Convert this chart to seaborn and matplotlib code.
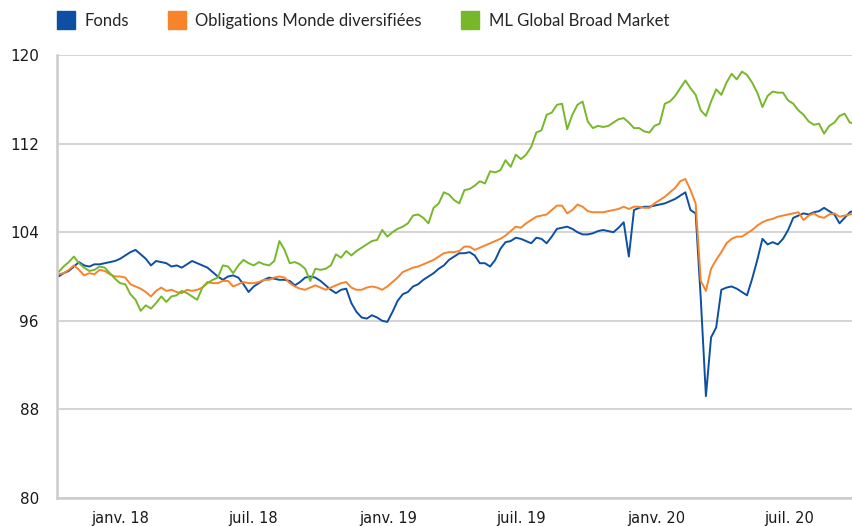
import matplotlib
matplotlib.use("Agg")
import matplotlib.pyplot as plt
import matplotlib.dates as mdates
from matplotlib.ticker import MultipleLocator, FixedLocator
from matplotlib.lines import Line2D
import seaborn as sns
import pandas as pd
import numpy as np

start_date = "2017-10-09"
n_weeks = 156

fonds = [
    100.0, 100.3, 100.5, 100.9, 101.3, 101.0, 100.9, 101.1, 101.1, 101.2,
    101.3, 101.4, 101.6, 101.9, 102.2, 102.4, 102.0, 101.6, 101.0, 101.4,
    101.3, 101.2, 100.9, 101.0, 100.8, 101.1, 101.4, 101.2, 101.0, 100.8,
    100.4, 100.0, 99.7, 100.0, 100.1, 99.9, 99.3, 98.6, 99.1, 99.4,
    99.7, 99.9, 99.8, 99.7, 99.7, 99.6, 99.2, 99.5, 99.9, 100.0,
    99.9, 99.6, 99.2, 98.8, 98.5, 98.8, 98.9, 97.6, 96.8, 96.3,
    96.2, 96.5, 96.3, 96.0, 95.9, 96.8, 97.8, 98.4, 98.6, 99.1,
    99.3, 99.7, 100.0, 100.3, 100.7, 101.0, 101.5, 101.8, 102.1, 102.1,
    102.2, 101.9, 101.2, 101.2, 100.9, 101.5, 102.5, 103.1, 103.2, 103.5,
    103.4, 103.2, 103.0, 103.5, 103.4, 103.0, 103.6, 104.3, 104.4, 104.5,
    104.3, 104.0, 103.8, 103.8, 103.9, 104.1, 104.2, 104.1, 104.0, 104.4,
    104.9, 101.8, 106.0, 106.2, 106.3, 106.3, 106.4, 106.5, 106.6, 106.8,
    107.0, 107.3, 107.6, 106.0, 105.7, 98.0, 89.2, 94.5, 95.4, 98.8,
    99.0, 99.1, 98.9, 98.6, 98.3, 99.8, 101.5, 103.4, 102.9, 103.1,
    102.9, 103.4, 104.2, 105.3, 105.5, 105.7, 105.6, 105.8, 105.9, 106.2,
    105.9, 105.6, 104.8, 105.3, 105.8, 106.0,
]

obligations = [
    100.2, 100.3, 100.6, 101.0, 100.6, 100.1, 100.3, 100.2, 100.6, 100.5,
    100.2, 100.0, 100.0, 99.9, 99.3, 99.1, 98.9, 98.6, 98.2, 98.7,
    99.0, 98.7, 98.8, 98.6, 98.5, 98.8, 98.7, 98.8, 99.0, 99.5,
    99.4, 99.4, 99.6, 99.6, 99.1, 99.3, 99.5, 99.4, 99.4, 99.5,
    99.7, 99.7, 99.9, 100.0, 99.9, 99.4, 99.1, 98.9, 98.8, 99.0,
    99.2, 99.0, 98.8, 99.0, 99.2, 99.4, 99.5, 99.0, 98.8, 98.8,
    99.0, 99.1, 99.0, 98.8, 99.1, 99.5, 99.9, 100.4, 100.6, 100.8,
    100.9, 101.1, 101.3, 101.5, 101.8, 102.1, 102.2, 102.2, 102.3, 102.7,
    102.7, 102.4, 102.6, 102.8, 103.0, 103.2, 103.4, 103.7, 104.1, 104.5,
    104.4, 104.8, 105.1, 105.4, 105.5, 105.6, 106.0, 106.4, 106.4, 105.7,
    106.0, 106.5, 106.3, 105.9, 105.8, 105.8, 105.8, 105.9, 106.0, 106.1,
    106.3, 106.1, 106.3, 106.3, 106.2, 106.2, 106.6, 106.9, 107.2, 107.6,
    108.0, 108.6, 108.8, 107.8, 106.6, 99.6, 98.7, 100.7, 101.5, 102.2,
    103.0, 103.4, 103.6, 103.6, 103.9, 104.2, 104.6, 104.9, 105.1, 105.2,
    105.4, 105.5, 105.6, 105.7, 105.8, 105.1, 105.5, 105.7, 105.4, 105.3,
    105.6, 105.7, 105.4, 105.5, 105.6, 105.7,
]

ml_global = [
    100.4, 100.9, 101.3, 101.8, 101.2, 100.8, 100.5, 100.6, 100.9, 100.8,
    100.3, 99.8, 99.4, 99.3, 98.4, 97.9, 96.9, 97.4, 97.1, 97.6,
    98.2, 97.7, 98.2, 98.3, 98.7, 98.5, 98.2, 97.9, 99.0, 99.4,
    99.7, 99.9, 101.0, 100.9, 100.3, 101.0, 101.5, 101.2, 101.0, 101.3,
    101.1, 101.0, 101.4, 103.2, 102.4, 101.2, 101.3, 101.1, 100.7, 99.6,
    100.7, 100.6, 100.7, 101.0, 102.0, 101.7, 102.3, 101.9, 102.3, 102.6,
    102.9, 103.2, 103.3, 104.2, 103.6, 104.0, 104.3, 104.5, 104.8, 105.5,
    105.6, 105.3, 104.8, 106.2, 106.6, 107.6, 107.4, 106.9, 106.6, 107.8,
    107.9, 108.2, 108.6, 108.4, 109.5, 109.4, 109.6, 110.5, 109.9, 111.0,
    110.6, 111.0, 111.7, 113.0, 113.2, 114.6, 114.8, 115.5, 115.6, 113.3,
    114.6, 115.5, 115.8, 114.0, 113.4, 113.6, 113.5, 113.6, 113.9, 114.2,
    114.3, 113.9, 113.4, 113.4, 113.1, 113.0, 113.6, 113.8, 115.6, 115.8,
    116.3, 117.0, 117.7, 117.0, 116.4, 115.0, 114.5, 115.8, 116.9, 116.4,
    117.5, 118.3, 117.8, 118.5, 118.2, 117.5, 116.6, 115.3, 116.3, 116.7,
    116.6, 116.6, 115.9, 115.6, 115.0, 114.6, 114.0, 113.7, 113.8, 112.9,
    113.6, 113.9, 114.5, 114.7, 113.9, 113.8,
]

series_names = ["Fonds", "Obligations Monde diversifiées", "ML Global Broad Market"]
colors = ["#0d4fa3", "#f7832b", "#76b82a"]

y_ticks = [80, 88, 96, 104, 112, 120]
month_names = {1: "janv.", 7: "juil."}

dates = pd.date_range(start_date, periods=n_weeks, freq="7D")
df = pd.concat([
    pd.DataFrame({"Date": dates, "Valeur": vals, "Serie": name})
    for name, vals in zip(series_names, [fonds, obligations, ml_global])
])

sns.set_style("white")
plt.rcParams["font.family"] = ["DejaVu Sans"]

fig = plt.figure(figsize=(8.53, 5.26), dpi=100)
ax = fig.add_axes([57 / 853, 28 / 526, 795 / 853, 443 / 526])

sns.lineplot(data=df, x="Date", y="Valeur", hue="Serie", hue_order=series_names,
             palette=colors, linewidth=1.4, ax=ax, legend=False)

ax.set_xlim(pd.Timestamp("2017-10-07"), pd.Timestamp("2020-09-24"))
ax.set_ylim(80, 120)
ax.set_xlabel("")
ax.set_ylabel("")

# y axis
ax.yaxis.set_major_locator(FixedLocator(y_ticks))
ax.yaxis.set_minor_locator(MultipleLocator(1.6))
ax.grid(axis="y", which="major", color="#d4d4d4", linewidth=1.4)
ax.grid(axis="x", visible=False)

# x axis: monthly minors, half-year majors
ax.xaxis.set_major_locator(mdates.MonthLocator(bymonth=[1, 7]))
ax.xaxis.set_minor_locator(mdates.MonthLocator())
ax.xaxis.set_major_formatter(
    plt.FuncFormatter(lambda v, p: "%s %s" % (month_names[mdates.num2date(v).month],
                                             mdates.num2date(v).strftime("%y"))))

ax.tick_params(axis="both", which="major", length=7, width=1.8, color="black",
               labelsize=11, labelcolor="#1a1a1a")
ax.tick_params(axis="y", which="major", pad=6)
ax.tick_params(axis="x", which="major", pad=2, labelsize=10.5)
ax.tick_params(axis="both", which="minor", length=6, width=1.2, color="#c8c8c8")

for s in ["top", "right"]:
    ax.spines[s].set_visible(False)
for s in ["left", "bottom"]:
    ax.spines[s].set_color("#cccccc")
    ax.spines[s].set_linewidth(1.8)

# legend with square swatches
handles = [Line2D([], [], marker="s", markersize=13, linestyle="none",
                  color=c) for c in colors]
fig.legend(handles, series_names, loc="center left", bbox_to_anchor=(0.05, 0.96),
           ncol=3, frameon=False, handlelength=1.0, handletextpad=0.6,
           columnspacing=2.4, prop={"family": "Lato", "size": 12})

fig.savefig("out.png", dpi=100)
